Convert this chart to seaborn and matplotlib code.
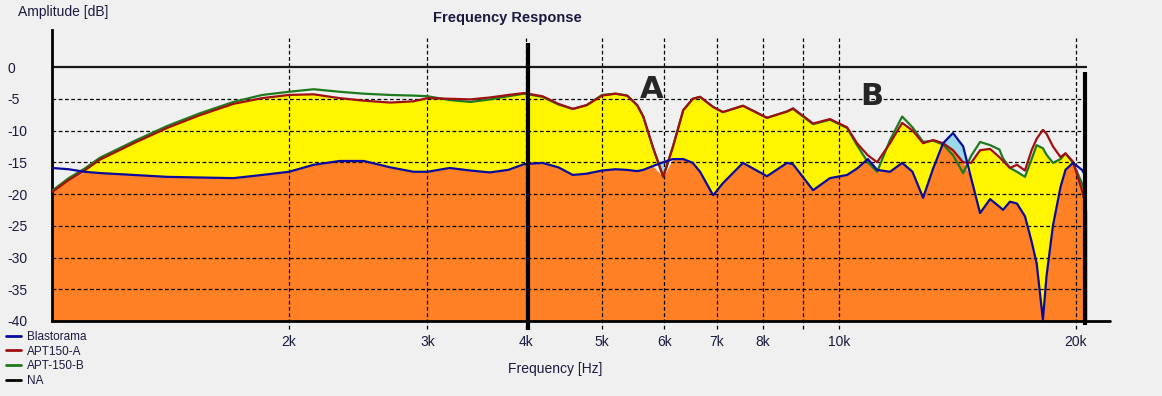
import numpy as np
import pandas as pd
import matplotlib
matplotlib.use("Agg")
import matplotlib.pyplot as plt
from matplotlib.lines import Line2D
import seaborn as sns

# Frequency response
freq_hz = [1000, 1050, 1100, 1150, 1270, 1400, 1540, 1700, 1850, 2000,
           2150, 2320, 2490, 2690, 2880, 3000, 3200, 3400, 3600, 3800,
           3980, 4200, 4400, 4590, 4780, 5000, 5200, 5380, 5540, 5640,
           5800, 5980, 6150, 6340, 6520, 6660, 6920, 7120, 7550, 8100,
           8590, 8740, 9270, 9740, 10240, 10540, 10880, 11180, 11610, 12030,
           12400, 12790, 13170, 13560, 13960, 14380, 14720, 15110, 15560, 15990,
           16160, 16490, 16830, 17230, 17570, 17830, 18160, 18350, 18700, 19120,
           19400, 19830, 20360, 20660]
blastorama_db = [-15.9, -16.1, -16.5, -16.7, -17.0, -17.3, -17.4, -17.5, -17.0, -16.5,
                 -15.4, -14.8, -14.8, -15.8, -16.5, -16.5, -15.9, -16.3, -16.6, -16.2,
                 -15.3, -15.1, -15.8, -17.0, -16.8, -16.3, -16.1, -16.2, -16.4, -16.2,
                 -15.6, -15.0, -14.5, -14.5, -15.1, -16.5, -20.2, -18.3, -15.1, -17.2,
                 -15.1, -15.3, -19.4, -17.5, -17.0, -16.0, -14.5, -16.2, -16.5, -15.1,
                 -16.5, -20.6, -16.0, -12.0, -10.4, -12.5, -17.5, -23.0, -20.8, -22.0,
                 -22.5, -21.2, -21.5, -23.5, -27.5, -30.9, -39.8, -33.0, -25.0, -18.9,
                 -16.2, -15.1, -16.2, -17.5]
apt150a_db = [-19.7, -17.8, -16.3, -14.6, -12.0, -9.6, -7.6, -5.8, -4.9, -4.4,
              -4.3, -4.9, -5.3, -5.6, -5.4, -4.9, -5.0, -5.1, -4.8, -4.4,
              -4.1, -4.6, -5.8, -6.6, -6.0, -4.5, -4.2, -4.5, -6.0, -7.8,
              -12.6, -17.3, -12.6, -6.8, -5.0, -4.7, -6.3, -7.1, -6.1, -8.0,
              -7.0, -6.5, -8.9, -8.2, -9.5, -12.0, -13.9, -15.0, -12.0, -8.8,
              -10.0, -12.0, -11.5, -12.0, -13.1, -15.0, -15.1, -13.1, -12.9, -14.2,
              -14.8, -15.9, -15.4, -16.3, -13.1, -11.3, -9.9, -10.5, -12.5, -14.2,
              -13.6, -14.9, -19.4, -22.7]
apt150b_db = [-19.5, -17.5, -16.0, -14.3, -11.7, -9.3, -7.3, -5.5, -4.4, -3.9,
              -3.5, -3.9, -4.2, -4.4, -4.5, -4.6, -5.2, -5.5, -5.1, -4.6,
              -4.2, -4.7, -5.9, -6.6, -6.0, -4.4, -4.2, -4.5, -6.0, -7.8,
              -12.6, -17.3, -12.6, -6.8, -5.0, -4.7, -6.3, -7.1, -6.1, -8.0,
              -7.0, -6.6, -9.0, -8.3, -9.6, -12.3, -15.0, -16.5, -11.5, -7.8,
              -9.5, -11.8, -11.6, -12.2, -13.9, -16.7, -14.0, -11.8, -12.3, -13.0,
              -14.4, -15.9, -16.5, -17.3, -14.5, -12.3, -12.8, -13.8, -15.1, -14.5,
              -13.6, -15.1, -18.3, -20.6]

# hand drawn black markers ("NA")
na_freq_hz = [4030, 20540]
na_top_db = [3.8, -0.8]

x_ticks = [2000, 3000, 4000, 5000, 6000, 7000, 8000, 9000, 10000, 20000]
x_tick_labels = ["2k", "3k", "4k", "5k", "6k", "7k", "8k", "", "10k", "20k"]
y_ticks = [0, -5, -10, -15, -20, -25, -30, -35, -40]

series_names = ["Blastorama", "APT150-A", "APT-150-B"]
line_colors = ["#0A0A9C", "#A01010", "#1E7A1E"]

df = pd.concat([
    pd.DataFrame({"freq": freq_hz, "db": blastorama_db, "series": "Blastorama"}),
    pd.DataFrame({"freq": freq_hz, "db": apt150a_db, "series": "APT150-A"}),
    pd.DataFrame({"freq": freq_hz, "db": apt150b_db, "series": "APT-150-B"}),
])

sns.set_style("white")
plt.rcParams["font.family"] = ["Liberation Sans", "DejaVu Sans"]
bg = "#F0F0F0"
txt = "#1A1A40"

fig = plt.figure(figsize=(11.62, 3.96), dpi=100, facecolor=bg)
ax = fig.add_axes([52 / 1162, 75 / 396, 1035 / 1162, 291 / 396])
ax.set_facecolor(bg)
ax.set_xscale("log")
ax.set_xlim(1000, 20660)
ax.set_ylim(-40, 5.83)

f = np.array(freq_hz)
b = np.array(blastorama_db)
r = np.array(apt150a_db)
g = np.array(apt150b_db)
top = np.minimum(r, g)
ax.fill_between(f, -40, np.minimum(b, r), color="#FF8025", lw=0, zorder=1)
ax.fill_between(f, b, top, where=top > b, interpolate=True, color="#FFF500", lw=0, zorder=1)
mid = (f > 5000) & (f < 16000)
ax.fill_between(f, r, b, where=(b > r) & mid, interpolate=True, color="#9AD8EA",
                lw=0, zorder=1)

# grid
for yv in y_ticks[1:-1]:
    ax.axhline(yv, color="black", lw=0.9, ls=(0, (3, 2)), zorder=2)
ax.vlines(x_ticks, -41.2, 4.6, colors="black", lw=0.9, linestyles=(0, (3, 2)),
          clip_on=False, zorder=2)
ax.axhline(0, color="#1a1a1a", lw=1.6, zorder=2)

# green first so the red trace sits on top, blue last
sns.lineplot(data=df, x="freq", y="db", hue="series",
             hue_order=["APT-150-B", "APT150-A", "Blastorama"],
             palette=line_colors[::-1], estimator=None, sort=False, lw=1.6,
             legend=False, ax=ax, zorder=3)

ax.vlines(na_freq_hz, [-41.4, -40.6], na_top_db, colors="black", lw=3,
          clip_on=False, zorder=4)

ax.text(5786, -3.5, "A", fontsize=22, fontweight="bold", ha="center", va="center",
        family="DejaVu Sans", zorder=5)
ax.text(11012, -4.7, "B", fontsize=22, fontweight="bold", ha="center", va="center",
        family="DejaVu Sans", zorder=5)

# axes styling
for s in ["top", "right", "bottom"]:
    ax.spines[s].set_visible(False)
ax.spines["left"].set_linewidth(2)
ax.spines["left"].set_color("black")
ax.plot([0, 1.022], [0, 0], transform=ax.transAxes, color="black", lw=2,
        clip_on=False, zorder=4)

ax.set_xticks(x_ticks)
ax.set_xticklabels(x_tick_labels)
ax.xaxis.set_minor_locator(matplotlib.ticker.NullLocator())
ax.set_yticks(y_ticks)
ax.set_yticklabels([str(v) for v in y_ticks])
ax.tick_params(axis="x", length=0, pad=10, labelsize=10, labelcolor=txt)
ax.tick_params(axis="y", length=0, pad=32, labelsize=10, labelcolor=txt)
for lab in ax.get_yticklabels():
    lab.set_horizontalalignment("left")
ax.set_xlabel("")
ax.set_ylabel("")

fig.text(18 / 1162, 1 - 12 / 396, "Amplitude [dB]", fontsize=10, color=txt,
         ha="left", va="center")
fig.text(507 / 1162, 1 - 18 / 396, "Frequency Response", fontsize=10.5,
         fontweight="bold", color=txt, ha="center", va="center")
fig.text(555 / 1162, 1 - 369 / 396, "Frequency [Hz]", fontsize=10, color=txt,
         ha="center", va="center")

handles = [Line2D([], [], color=c, lw=2) for c in line_colors]
handles.append(Line2D([], [], color="black", lw=2))
fig.legend(handles, series_names + ["NA"], loc="upper left",
           bbox_to_anchor=(6 / 1162, 1 - 331 / 396), frameon=False, fontsize=8.5,
           handlelength=1.3, handletextpad=0.5, labelspacing=0.22,
           borderpad=0, borderaxespad=0, labelcolor=txt)

fig.savefig("out.png", dpi=100, facecolor=bg)
